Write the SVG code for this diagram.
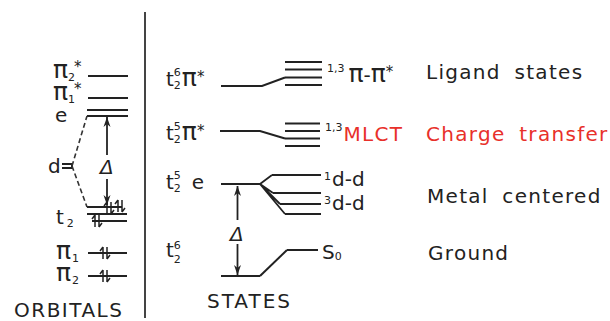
<svg xmlns="http://www.w3.org/2000/svg" width="610" height="321" viewBox="0 0 610 321">
<style>
text{font-family:"DejaVu Sans","Liberation Sans",sans-serif;fill:#222}
.lv{stroke:#222;stroke-width:2;fill:none}
.c{stroke:#222;stroke-width:1.8;fill:none}
.dash{stroke:#333;stroke-width:1.6;fill:none;stroke-dasharray:5 3}
.lab{font-size:20px}
.pi{font-size:25px}
.sm{font-size:11px}
.ast{font-size:15px}
.big{font-size:20px;letter-spacing:1.3px;word-spacing:6px}
.red{fill:#e8302a}
</style>
<defs>
<marker id="ah" viewBox="0 0 10 8" refX="10" refY="4" markerWidth="10" markerHeight="8" markerUnits="userSpaceOnUse" orient="auto">
<path d="M0,0.5 L10,4 L0,7.5 L3,4 z" fill="#222"/>
</marker>
<g id="pair">
<path d="M0,-6 V6 M0,-6 L-3,-2" stroke="#222" stroke-width="1.5" fill="none"/>
<path d="M4,-6 V6 M4,6 L7,2" stroke="#222" stroke-width="1.5" fill="none"/>
</g>
</defs>
<rect width="610" height="321" fill="#fff"/>
<line x1="145" y1="12" x2="145" y2="318" stroke="#444" stroke-width="2"/>

<g id="orbitals">
<g id="orb-pi2star">
<text class="pi" x="53" y="78">π<tspan class="sm" dy="3">2</tspan><tspan class="ast" dx="-1" dy="-9">*</tspan></text>
<line class="lv" x1="88" y1="76" x2="128" y2="76"/>
</g>
<g id="orb-pi1star">
<text class="pi" x="53" y="100">π<tspan class="sm" dy="3">1</tspan><tspan class="ast" dx="-1" dy="-9">*</tspan></text>
<line class="lv" x1="88" y1="98" x2="128" y2="98"/>
</g>
<g id="orb-e">
<text class="lab" x="55" y="122">e</text>
<line class="lv" x1="87" y1="110" x2="128" y2="110"/>
<line class="lv" x1="87" y1="116" x2="128" y2="116"/>
</g>
<g id="orb-d">
<text class="lab" x="48" y="173">d</text>
<path class="lv" d="M62,164 H72 M62,168 H72 M72,163 V169" stroke-width="1.8"/>
</g>
<g id="orb-t2">
<text class="lab" x="56" y="224">t<tspan class="sm" dx="3" dy="3">2</tspan></text>
<line class="lv" x1="87" y1="207" x2="122" y2="207"/>
<line class="lv" x1="87" y1="214" x2="127" y2="214"/>
<line class="lv" x1="92" y1="221" x2="127" y2="221"/>
<use href="#pair" x="107" y="208"/>
<use href="#pair" x="118" y="206"/>
<use href="#pair" x="95" y="221"/>
</g>
<g id="orb-pi1">
<text class="pi" x="56" y="259">π<tspan class="sm" dx="1" dy="3">1</tspan></text>
<line class="lv" x1="88" y1="253" x2="127" y2="253"/>
<use href="#pair" x="103" y="253"/>
</g>
<g id="orb-pi2">
<text class="pi" x="56" y="281">π<tspan class="sm" dx="1" dy="3">2</tspan></text>
<line class="lv" x1="88" y1="276" x2="127" y2="276"/>
<use href="#pair" x="103" y="276"/>
</g>
<text id="orbitals-title" class="big" x="14" y="317" style="letter-spacing:1.5px">ORBITALS</text>
</g>

<g id="states">
<g id="st-ligand">
<text class="lab" x="166" y="86">t<tspan class="sm" dy="-10">6</tspan><tspan class="sm" dx="-7" dy="13">2</tspan><tspan class="pi" dx="1" dy="-3">π</tspan><tspan class="ast" dy="-4">*</tspan></text>
<path class="lv" d="M285,62 H322 M285,69.5 H322 M285,77.5 H322 M285,85 H322"/>
<text x="327" y="82"><tspan class="sm" dy="-10">1,3</tspan><tspan class="pi" dx="4" dy="10">π</tspan><tspan class="lab">-</tspan><tspan class="pi">π</tspan><tspan class="ast" dy="-5">*</tspan></text>
<text class="big" x="426" y="79">Ligand states</text>
</g>
<g id="st-mlct">
<text class="lab" x="166" y="140">t<tspan class="sm" dy="-10">5</tspan><tspan class="sm" dx="-7" dy="13">2</tspan><tspan class="pi" dx="1" dy="-3">π</tspan><tspan class="ast" dy="-4">*</tspan></text>
<path class="lv" d="M285,123.5 H320 M285,131 H320 M285,138.5 H320 M285,146 H320"/>
<text x="325" y="141"><tspan class="sm" dy="-10">1,3</tspan><tspan class="big red" dx="1" dy="10">MLCT</tspan></text>
<text class="big red" x="426" y="141">Charge transfer</text>
</g>
<g id="st-metal">
<text class="lab" x="166" y="189">t<tspan class="sm" dy="-10">5</tspan><tspan class="sm" dx="-7" dy="13">2</tspan><tspan dx="11" dy="-3">e</tspan></text>
<line class="lv" x1="221" y1="184" x2="260" y2="184"/>
<path class="lv" d="M272,175 H321 M273,193 H321 M280,204 H321 M285,214 H321"/>
<text x="324" y="186" class="lab"><tspan class="sm" dy="-6">1</tspan><tspan dx="1" dy="6">d-d</tspan></text>
<text x="324" y="210" class="lab"><tspan class="sm" dy="-6">3</tspan><tspan dx="1" dy="6">d-d</tspan></text>
<text class="big" x="427" y="203">Metal centered</text>
</g>
<g id="st-ground">
<text class="lab" x="166" y="257">t<tspan class="sm" dy="-8">6</tspan><tspan class="sm" dx="-7" dy="14">2</tspan></text>
<line class="lv" x1="221" y1="276" x2="260" y2="276"/>
<line class="lv" x1="287" y1="250" x2="318" y2="250"/>
<text class="lab" x="322" y="259">S<tspan class="sm" dy="1">0</tspan></text>
<text class="big" x="428" y="260">Ground</text>
</g>
<text id="states-title" class="big" x="207" y="308" style="letter-spacing:2px">STATES</text>
</g>

<g id="connectors">
<path class="dash" d="M72,166 L87,116 M72,166 L87,207"/>
<line class="c" x1="107" y1="155" x2="107" y2="117" marker-end="url(#ah)"/>
<line class="c" x1="107" y1="179" x2="107" y2="205" marker-end="url(#ah)"/>
<text class="lab" x="100" y="174" font-style="italic">Δ</text>
<path class="lv" d="M221,86 H262 L285,77.5"/>
<path class="lv" d="M220,131 H260 L285,138.5"/>
<path class="c" d="M260,184 L272,175 M260,184 L273,193 M260,184 L280,204 M260,184 L285,214"/>
<path class="lv" d="M260,276 L287,250"/>
<line class="c" x1="237.5" y1="220" x2="237.5" y2="186" marker-end="url(#ah)"/>
<line class="c" x1="237.5" y1="244" x2="237.5" y2="275" marker-end="url(#ah)"/>
<text class="lab" x="230" y="241" font-style="italic">Δ</text>
</g>
</svg>
